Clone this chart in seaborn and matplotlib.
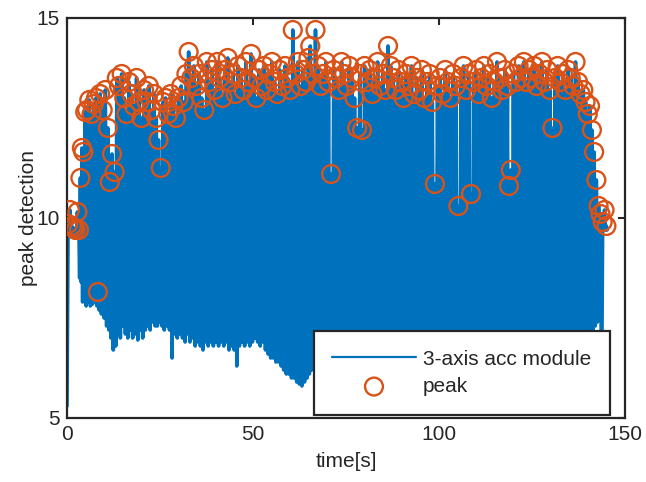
import numpy as np
import matplotlib
matplotlib.use("Agg")
import matplotlib.pyplot as plt
import seaborn as sns

# peaks found in the acc module signal (time [s], value)
peak_t = [0.3, 0.8, 1.3, 1.8, 2.3, 2.8, 3.2, 3.6, 4.0, 4.4, 4.9, 5.4, 6.0, 6.6, 7.2, 7.8, 8.3, 8.9, 9.6, 10.3,
          11.0, 11.5, 12.1, 12.8, 13.4, 14.0, 14.7, 15.4, 16.0, 16.7, 17.3, 18.0, 18.7, 19.4, 20.0,
          20.7, 21.4, 22.0, 22.7, 23.4, 24.0, 24.6, 25.2, 25.8, 26.5, 27.2, 27.9, 28.6, 29.3, 30.0,
          30.7, 31.4, 32.1, 32.7, 33.4, 34.1, 34.8, 35.5, 36.2, 36.9, 37.6, 38.3, 39.0, 39.7, 40.4,
          41.1, 41.8, 42.5, 43.2, 43.9, 44.6, 45.3, 46.0, 46.7, 47.4, 48.1, 48.8, 49.5, 50.2, 50.9,
          51.6, 52.3, 53.0, 53.7, 54.4, 55.1, 55.8, 56.5, 57.2, 57.9, 58.6, 59.3, 60.0, 60.7, 61.4,
          62.1, 62.8, 63.5, 64.2, 64.9, 65.4, 66.1, 66.8, 67.5, 68.2, 68.9, 69.6, 70.3, 71.0, 71.7,
          72.4, 73.1, 73.8, 74.5, 75.2, 75.9, 76.6, 77.3, 78.0, 78.7, 79.3, 80.0, 80.7, 81.4, 82.1,
          82.8, 83.5, 84.2, 84.9, 85.6, 86.3, 87.0, 87.7, 88.4, 89.1, 89.8, 90.5, 91.2, 91.9, 92.6,
          93.3, 94.0, 94.7, 95.4, 96.1, 96.8, 97.5, 98.2, 98.9, 99.6, 100.3, 101.0, 101.7, 102.4, 103.1,
          103.8, 104.5, 105.2, 105.9, 106.6, 107.3, 108.0, 108.6, 109.3, 110.0, 110.7, 111.4, 112.1, 112.8, 113.5,
          114.2, 114.9, 115.6, 116.3, 117.0, 117.7, 118.4, 118.8, 119.3, 120.0, 120.7, 121.4, 122.1, 122.8, 123.5,
          124.2, 124.9, 125.6, 126.3, 127.0, 127.7, 128.4, 129.1, 129.8, 130.5, 131.2, 131.9, 132.6, 133.3, 134.0,
          134.7, 135.4, 136.1, 136.7, 137.4, 138.1, 138.8, 139.4, 140.0, 140.6, 141.1, 141.7, 142.3, 142.9, 143.4,
          144.0, 144.5, 145.0]
peak_v = [9.85, 10.2, 9.8, 9.75, 9.7, 10.15, 9.7, 11.0, 11.75, 11.65, 12.65, 12.7, 12.95, 12.6, 12.85, 13.0, 8.15, 13.1, 12.7, 13.2,
          12.25, 10.9, 11.6, 11.15, 13.5, 13.3, 13.6, 13.0, 12.6, 13.4, 13.1, 12.8, 13.5, 12.9, 12.5,
          13.2, 12.9, 13.3, 12.7, 13.1, 12.5, 11.95, 11.25, 12.9, 13.0, 12.6, 13.1, 12.8, 12.5, 13.0,
          13.3, 12.9, 13.6, 14.15, 13.5, 13.8, 13.3, 13.6, 13.0, 12.7, 13.9, 13.4, 13.7, 13.2, 13.9,
          13.5, 13.0, 13.7, 14.0, 13.4, 13.6, 13.1, 13.8, 13.5, 13.2, 13.9, 13.4, 14.1, 13.5, 13.0,
          13.7, 13.3, 13.8, 13.2, 13.6, 13.9, 13.4, 13.1, 13.7, 13.3, 13.8, 13.5, 13.2, 14.7, 13.6,
          13.9, 13.3, 13.7, 13.4, 14.0, 14.3, 13.6, 14.7, 13.8, 13.3, 13.6, 13.9, 13.4, 11.1, 13.7,
          13.5, 13.2, 13.9, 13.6, 13.3, 13.8, 13.5, 13.0, 12.25, 13.6, 12.2, 13.8, 13.4, 13.7, 13.1,
          13.5, 13.9, 13.3, 13.6, 13.2, 14.3, 13.8, 13.5, 13.2, 13.7, 13.4, 13.0, 13.6, 13.3, 13.8,
          13.1, 13.5, 13.2, 13.7, 13.0, 13.4, 13.6, 12.9, 10.85, 13.3, 13.5, 13.1, 13.7, 13.4, 13.0,
          13.6, 13.3, 10.3, 13.5, 13.8, 13.2, 13.6, 10.6, 13.4, 13.7, 13.1, 13.5, 13.8, 13.3, 13.6,
          13.0, 13.4, 13.9, 13.5, 13.2, 13.7, 13.3, 10.8, 11.2, 13.6, 13.4, 13.8, 13.5, 13.9, 13.4,
          13.7, 13.5, 13.8, 13.3, 13.6, 13.9, 13.4, 13.7, 13.2, 12.25, 13.5, 13.8, 13.4, 13.6, 13.2,
          13.7, 13.5, 13.3, 13.9, 13.4, 13.1, 13.2, 12.9, 12.6, 12.8, 12.2, 11.65, 10.95, 10.3, 10.1,
          9.9, 10.2, 9.8]

# minima of the signal between the peaks
trough_t = [0.0, 0.55, 1.05, 1.55, 2.05, 2.55, 3.0, 3.4, 3.8, 4.2, 4.65, 5.15, 5.7, 6.3, 6.9, 7.5, 8.05, 8.6, 9.25, 9.95, 10.65,
            11.25, 11.8, 12.45, 13.1, 13.7, 14.35, 15.05, 15.7, 16.35, 17.0, 17.65, 18.35, 19.05, 19.7, 20.35,
            21.05, 21.7, 22.35, 23.05, 23.7, 24.3, 24.9, 25.5, 26.15, 26.85, 27.55, 28.25, 28.95, 29.65, 30.35,
            31.05, 31.75, 32.4, 33.05, 33.75, 34.45, 35.15, 35.85, 36.55, 37.25, 37.95, 38.65, 39.35, 40.05, 40.75,
            41.45, 42.15, 42.85, 43.55, 44.25, 44.95, 45.65, 46.35, 47.05, 47.75, 48.45, 49.15, 49.85, 50.55, 51.25,
            51.95, 52.65, 53.35, 54.05, 54.75, 55.45, 56.15, 56.85, 57.55, 58.25, 58.95, 59.65, 60.35, 61.05, 61.75,
            62.45, 63.15, 63.85, 64.55, 65.15, 65.75, 66.45, 67.15, 67.85, 68.55, 69.25, 69.95, 70.65, 71.35, 72.05,
            72.75, 73.45, 74.15, 74.85, 75.55, 76.25, 76.95, 77.65, 78.35, 79.0, 79.65, 80.35, 81.05, 81.75, 82.45,
            83.15, 83.85, 84.55, 85.25, 85.95, 86.65, 87.35, 88.05, 88.75, 89.45, 90.15, 90.85, 91.55, 92.25, 92.95,
            93.65, 94.35, 95.05, 95.75, 96.45, 97.15, 97.85, 98.55, 99.25, 99.95, 100.65, 101.35, 102.05, 102.75, 103.45,
            104.15, 104.85, 105.55, 106.25, 106.95, 107.65, 108.3, 108.95, 109.65, 110.35, 111.05, 111.75, 112.45, 113.15, 113.85,
            114.55, 115.25, 115.95, 116.65, 117.35, 118.05, 118.6, 119.05, 119.65, 120.35, 121.05, 121.75, 122.45, 123.15, 123.85,
            124.55, 125.25, 125.95, 126.65, 127.35, 128.05, 128.75, 129.45, 130.15, 130.85, 131.55, 132.25, 132.95, 133.65, 134.35,
            135.05, 135.75, 136.4, 137.05, 137.75, 138.45, 139.1, 139.7, 140.3, 140.85, 141.4, 142.0, 142.6, 143.15, 143.7,
            144.25, 144.75, 145.2]
trough_v = [5.3, 9.6, 9.65, 9.6, 9.55, 9.6, 9.55, 8.5, 8.4, 7.9, 8.0, 7.8, 7.9, 7.8, 7.85, 8.0, 7.8, 7.7, 7.6, 7.5, 7.3,
            7.2, 7.0, 6.7, 6.8, 7.1, 7.0, 7.3, 7.1, 7.0, 7.2, 7.0, 7.1, 6.95, 7.2, 7.0,
            7.2, 7.3, 7.2, 7.4, 7.3, 7.3, 7.4, 7.3, 7.2, 7.3, 7.2, 6.5, 7.1, 7.0, 7.1,
            7.0, 6.9, 7.1, 6.9, 7.0, 6.8, 6.9, 6.8, 6.7, 6.9, 6.8, 6.9, 6.8, 6.9, 6.8,
            6.9, 6.8, 6.9, 6.7, 6.8, 6.7, 6.3, 6.8, 6.9, 6.8, 6.9, 6.8, 6.9, 7.0, 6.9,
            6.8, 6.9, 6.7, 6.6, 6.5, 6.5, 6.4, 6.4, 6.3, 6.2, 6.1, 6.1, 6.0, 6.0, 5.9,
            5.85, 5.8, 5.9, 6.0, 6.1, 6.2, 6.3, 6.3, 6.4, 6.5, 6.5, 6.6, 6.6, 6.7, 6.6,
            6.7, 6.8, 6.7, 6.8, 6.9, 6.8, 6.9, 6.8, 6.9, 7.0, 6.9, 7.0, 6.9, 7.0, 6.9,
            7.0, 7.1, 7.0, 6.9, 7.0, 7.1, 7.0, 6.9, 7.0, 7.1, 7.0, 7.0, 7.1, 7.0, 6.9,
            7.0, 7.1, 7.0, 7.0, 7.1, 7.0, 6.9, 7.0, 7.1, 7.0, 7.0, 7.1, 7.0, 6.9, 7.0,
            7.1, 7.0, 7.0, 7.1, 7.0, 6.9, 7.0, 7.1, 7.0, 7.0, 7.1, 7.0, 6.9, 7.0, 7.1,
            7.0, 7.1, 7.0, 7.0, 6.9, 7.0, 7.1, 7.0, 7.0, 7.1, 7.0, 6.9, 7.0, 7.1, 7.0,
            7.0, 7.1, 7.0, 6.9, 7.0, 7.1, 7.0, 7.0, 7.1, 7.0, 6.9, 7.0, 7.1, 7.0, 7.0,
            7.1, 7.0, 7.1, 7.0, 7.1, 7.2, 7.1, 7.2, 7.2, 7.3, 7.2, 7.3, 7.4, 9.6, 5.4,
            9.7, 9.7, 9.7]

x_ticks = [0, 50, 100, 150]
y_ticks = [5, 10, 15]

BLUE = "#0072BD"
ORANGE = "#D95319"
DARK = "#262626"

sns.set_theme(style="white")
plt.rcParams["font.family"] = ["Liberation Sans", "DejaVu Sans"]

# full signal = peaks and troughs in time order
sig_t = np.concatenate([peak_t, trough_t])
sig_v = np.concatenate([peak_v, trough_v])
order = np.argsort(sig_t, kind="stable")
sig_t = sig_t[order]
sig_v = sig_v[order]

fig = plt.figure(figsize=(6.46, 4.82), dpi=100)
ax = fig.add_axes([0.1037, 0.1328, 0.8638, 0.8299])

sns.lineplot(x=sig_t, y=sig_v, ax=ax, color=BLUE, linewidth=2.6,
             estimator=None, sort=False, label="3-axis acc module")
sns.scatterplot(x=peak_t, y=peak_v, ax=ax, marker="o", s=165,
                facecolors="none", edgecolor=ORANGE, linewidth=1.7,
                label="peak", zorder=3)

ax.set_xlim(0, 150)
ax.set_ylim(5, 15)
ax.set_xticks(x_ticks)
ax.set_yticks(y_ticks)
ax.set_xlabel("time[s]", fontsize=15, color=DARK, labelpad=6)
ax.set_ylabel("peak detection", fontsize=15, color=DARK, labelpad=-1)
ax.tick_params(direction="in", length=5, width=1.5, top=True, right=True,
               labelsize=15, colors=DARK, pad=5)
for sp in ax.spines.values():
    sp.set_visible(True)
    sp.set_linewidth(1.6)
    sp.set_color(DARK)

leg = ax.legend(loc="lower right", bbox_to_anchor=(0.973, 0.008), borderaxespad=0,
                fontsize=15, frameon=True, fancybox=False, framealpha=1,
                edgecolor=DARK, handlelength=4.0, handletextpad=0.35,
                borderpad=0.9, labelspacing=0.4)
leg.get_frame().set_linewidth(1.6)
leg.get_lines()[0].set_linewidth(1.6)

fig.savefig("out.png", dpi=100)
